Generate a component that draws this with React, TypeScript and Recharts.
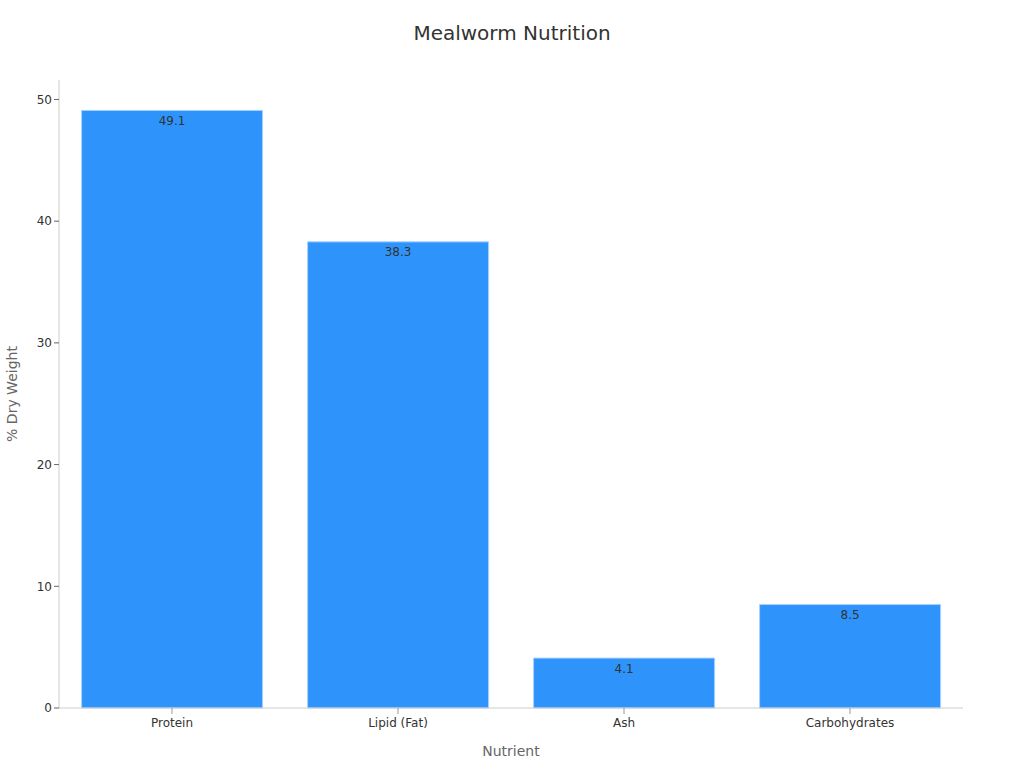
import React from "react";
import { BarChart, Bar, XAxis, YAxis, LabelList } from "recharts";

const categories = ["Protein", "Lipid (Fat)", "Ash", "Carbohydrates"];
const values = [49.1, 38.3, 4.1, 8.5];
const yTicks = [0, 10, 20, 30, 40, 50];

const data = categories.map((name, i) => ({ name, value: values[i] }));

const FONT = "'DejaVu Sans', sans-serif";

export default function App() {
  return (
    <div style={{ position: "absolute", left: 0, top: 0, width: 1024, height: 768, background: "#fff", fontFamily: FONT }}>
      <div style={{ position: "absolute", left: 0, top: 21, width: 1024, textAlign: "center", fontSize: 20, color: "#333" }}>
        Mealworm Nutrition
      </div>
      <BarChart
        width={1024}
        height={768}
        data={data}
        margin={{ top: 80, right: 61, bottom: 0, left: 1 }}
        barCategoryGap="10%"
      >
        <XAxis
          dataKey="name"
          height={60}
          axisLine={{ stroke: "#ccc" }}
          tickLine={{ stroke: "#999" }}
          tickMargin={4}
          tick={{ fill: "#333", fontSize: 12, fontFamily: FONT }}
          label={{ value: "Nutrient", position: "insideBottom", offset: 12, fill: "#666", fontSize: 14, fontFamily: FONT }}
        />
        <YAxis
          width={58}
          domain={[0, 51.6]}
          ticks={yTicks}
          axisLine={{ stroke: "#ccc" }}
          tickLine={{ stroke: "#666" }}
          tickSize={5}
          tick={{ fill: "#333", fontSize: 12, fontFamily: FONT }}
          label={{ value: "% Dry Weight", angle: -90, position: "insideLeft", offset: 11, fill: "#666", fontSize: 14, fontFamily: FONT, style: { textAnchor: "middle" } }}
        />
        <Bar dataKey="value" fill="#2e93fa" stroke="#a6d1fd" strokeWidth={1} isAnimationActive={false}>
          <LabelList dataKey="value" position="insideTop" offset={6} fill="#333" fontSize={12} fontFamily={FONT} />
        </Bar>
      </BarChart>
    </div>
  );
}
